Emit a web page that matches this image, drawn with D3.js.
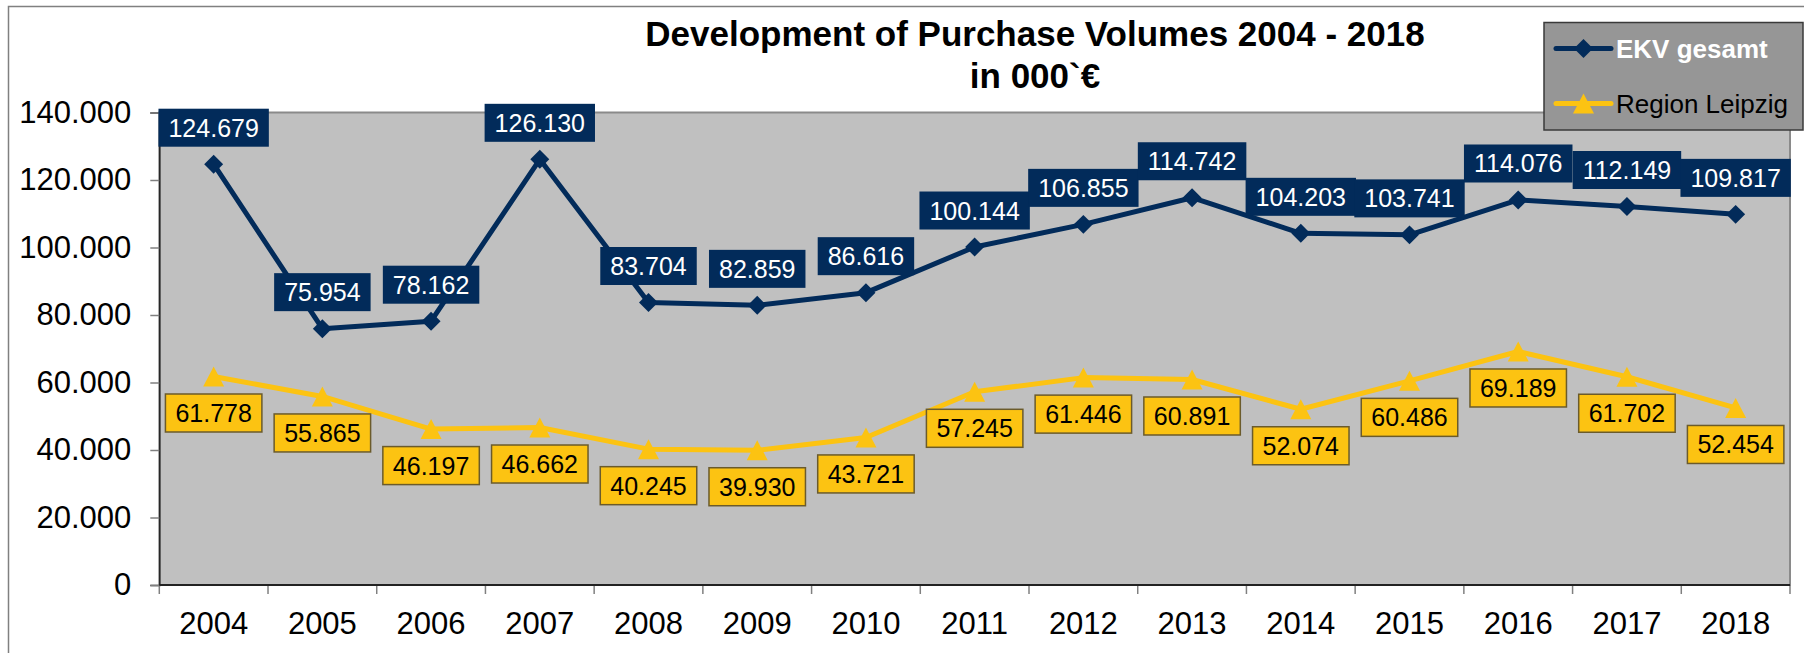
<!DOCTYPE html>
<html>
<head>
<meta charset="utf-8">
<script src="https://cdn.jsdelivr.net/npm/d3@7"></script>
<style>
  html, body { margin: 0; padding: 0; background: #fff; }
  #chart { width: 1804px; height: 653px; }
  text { font-family: "Liberation Sans", Arial, sans-serif; }
</style>
</head>
<body>
<div id="chart"></div>
<script>
// Development of Purchase Volumes 2004 - 2018 (in 000`€)

const years = ["2004", "2005", "2006", "2007", "2008", "2009", "2010", "2011",
  "2012", "2013", "2014", "2015", "2016", "2017", "2018"];

const ekvGesamt = [124679, 75954, 78162, 126130, 83704, 82859, 86616, 100144,
  106855, 114742, 104203, 103741, 114076, 112149, 109817];

const regionLeipzig = [61778, 55865, 46197, 46662, 40245, 39930, 43721, 57245,
  61446, 60891, 52074, 60486, 69189, 61702, 52454];

const yTicks = [0, 20000, 40000, 60000, 80000, 100000, 120000, 140000];

const seriesNames = ["EKV gesamt", "Region Leipzig"];

const titleLines = ["Development of Purchase Volumes 2004 - 2018", "in 000`€"];

const NAVY = "#022b5a";
const GOLD = "#fcc312";

function renderChart(containerId) {
  const container = d3.select(`#${containerId}`);
  container.selectAll("*").remove();

  const width = 1804, height = 653;
  const margin = { top: 112.5, right: 14, bottom: 68, left: 159.3 };

  const svg = container.append("svg")
    .attr("width", width)
    .attr("height", height);

  // German number format: 124.679
  const de = d3.formatLocale({ decimal: ",", thousands: ".", grouping: [3], currency: ["", "€"] });
  const fmt = de.format(",");

  // outer chart border
  svg.append("rect")
    .attr("x", 8.5).attr("y", 6.5)
    .attr("width", 1810).attr("height", 660)
    .attr("fill", "#fff")
    .attr("stroke", "#808080")
    .attr("stroke-width", 1.5);

  const x = d3.scaleBand()
    .domain(years)
    .range([margin.left, width - margin.right]);

  const y = d3.scaleLinear()
    .domain([0, 140000])
    .range([height - margin.bottom, margin.top]);

  const cx = d => x(d) + x.bandwidth() / 2;

  // plot area
  svg.append("rect")
    .attr("x", x.range()[0]).attr("y", y(140000))
    .attr("width", x.range()[1] - x.range()[0])
    .attr("height", y(0) - y(140000))
    .attr("fill", "#c0c0c0")
    .attr("stroke", "#8a8a8a")
    .attr("stroke-width", 2);

  // y axis
  const yAxis = svg.append("g")
    .attr("transform", `translate(${x.range()[0]},0)`)
    .call(d3.axisLeft(y).tickValues(yTicks).tickFormat(fmt).tickSize(9).tickPadding(19));
  yAxis.select(".domain").attr("stroke", "#222").attr("stroke-width", 1.5);
  yAxis.selectAll(".tick line").attr("stroke", "#808080").attr("stroke-width", 1.5);
  yAxis.selectAll("text")
    .style("font-family", "Liberation Sans, Arial, sans-serif")
    .style("font-size", "31px")
    .attr("fill", "#000");

  // x axis: labels at centres, ticks on category boundaries
  const xAxis = svg.append("g")
    .attr("transform", `translate(0,${y(0)})`)
    .call(d3.axisBottom(x).tickSize(0).tickPadding(27));
  xAxis.select(".domain").remove();
  xAxis.selectAll("text")
    .style("font-family", "Liberation Sans, Arial, sans-serif")
    .style("font-size", "31px")
    .attr("fill", "#000");

  const bounds = years.map(d => x(d)).concat([x.range()[1]]);
  svg.append("g")
    .selectAll("line")
    .data(bounds)
    .join("line")
    .attr("x1", d => d).attr("x2", d => d)
    .attr("y1", y(0)).attr("y2", y(0) + 9)
    .attr("stroke", "#808080")
    .attr("stroke-width", 1.5);

  svg.append("line")
    .attr("x1", x.range()[0]).attr("x2", x.range()[1])
    .attr("y1", y(0)).attr("y2", y(0))
    .attr("stroke", "#222")
    .attr("stroke-width", 2);

  const diamond = d3.symbol().type(d3.symbolSquare).size(180);
  const triangle = (cxp, cyp) => `M${cxp},${cyp - 10}L${cxp + 10.5},${cyp + 10}L${cxp - 10.5},${cyp + 10}Z`;

  const line = d3.line().x(d => cx(d.year)).y(d => y(d.value));

  const ekvData = years.map((yr, i) => ({ year: yr, value: ekvGesamt[i] }));
  const lpzData = years.map((yr, i) => ({ year: yr, value: regionLeipzig[i] }));

  // EKV gesamt
  svg.append("path")
    .datum(ekvData)
    .attr("d", line)
    .attr("fill", "none")
    .attr("stroke", NAVY)
    .attr("stroke-width", 5)
    .attr("stroke-linejoin", "round");

  svg.append("g")
    .selectAll("path")
    .data(ekvData)
    .join("path")
    .attr("d", diamond)
    .attr("transform", d => `translate(${cx(d.year)},${y(d.value)}) rotate(45)`)
    .attr("fill", NAVY);

  // Region Leipzig
  svg.append("path")
    .datum(lpzData)
    .attr("d", line)
    .attr("fill", "none")
    .attr("stroke", GOLD)
    .attr("stroke-width", 5)
    .attr("stroke-linejoin", "round");

  svg.append("g")
    .selectAll("path")
    .data(lpzData)
    .join("path")
    .attr("d", d => triangle(cx(d.year), y(d.value)))
    .attr("fill", GOLD);

  // data labels
  function addLabels(data, above, fill, textColor, stroke) {
    const g = svg.append("g");
    data.forEach(d => {
      const lg = g.append("g");
      const rect = lg.append("rect");
      const t = lg.append("text")
        .attr("text-anchor", "middle")
        .attr("font-size", 25)
        .attr("fill", textColor)
        .text(fmt(d.value));
      const w = t.node().getComputedTextLength() + 20;
      const h = 38;
      const px = cx(d.year);
      const top = above ? y(d.value) - 17.5 - h : y(d.value) + 17.5;
      rect.attr("x", px - w / 2).attr("y", top)
        .attr("width", w).attr("height", h)
        .attr("fill", fill)
        .attr("stroke", stroke || "none")
        .attr("stroke-width", 1.5);
      t.attr("x", px).attr("y", top + h / 2 + 9);
    });
  }
  addLabels(ekvData, true, NAVY, "#fff", null);
  addLabels(lpzData, false, GOLD, "#000", "#6b5b2b");

  // title
  const title = svg.append("text")
    .attr("text-anchor", "middle")
    .attr("font-size", 35)
    .attr("font-weight", "bold")
    .attr("fill", "#000");
  title.selectAll("tspan")
    .data(titleLines)
    .join("tspan")
    .attr("x", 1035)
    .attr("y", (d, i) => 46 + i * 42)
    .text(d => d);

  // legend
  const legend = svg.append("g");
  legend.append("rect")
    .attr("x", 1544).attr("y", 22.5)
    .attr("width", 259).attr("height", 107.5)
    .attr("fill", "#969696")
    .attr("stroke", "#3a3a3a")
    .attr("stroke-width", 1.5);

  const legendItems = [
    { name: seriesNames[0], color: NAVY, marker: "diamond", textColor: "#fff", weight: "bold" },
    { name: seriesNames[1], color: GOLD, marker: "triangle", textColor: "#000", weight: "normal" }
  ];
  legendItems.forEach((item, i) => {
    const ly = 48.5 + i * 55;
    legend.append("line")
      .attr("x1", 1556).attr("x2", 1611)
      .attr("y1", ly).attr("y2", ly)
      .attr("stroke", item.color)
      .attr("stroke-width", 5)
      .attr("stroke-linecap", "round");
    legend.append("path")
      .attr("d", item.marker === "diamond"
        ? diamond()
        : triangle(0, 0))
      .attr("transform", item.marker === "diamond"
        ? `translate(1583.5,${ly}) rotate(45)`
        : `translate(1583.5,${ly})`)
      .attr("fill", item.color);
    legend.append("text")
      .attr("x", 1616)
      .attr("y", ly + 9)
      .attr("font-size", 26)
      .attr("font-weight", item.weight)
      .attr("fill", item.textColor)
      .text(item.name);
  });
}

document.addEventListener("DOMContentLoaded", () => {
  renderChart("chart");
});
</script>
</body>
</html>
